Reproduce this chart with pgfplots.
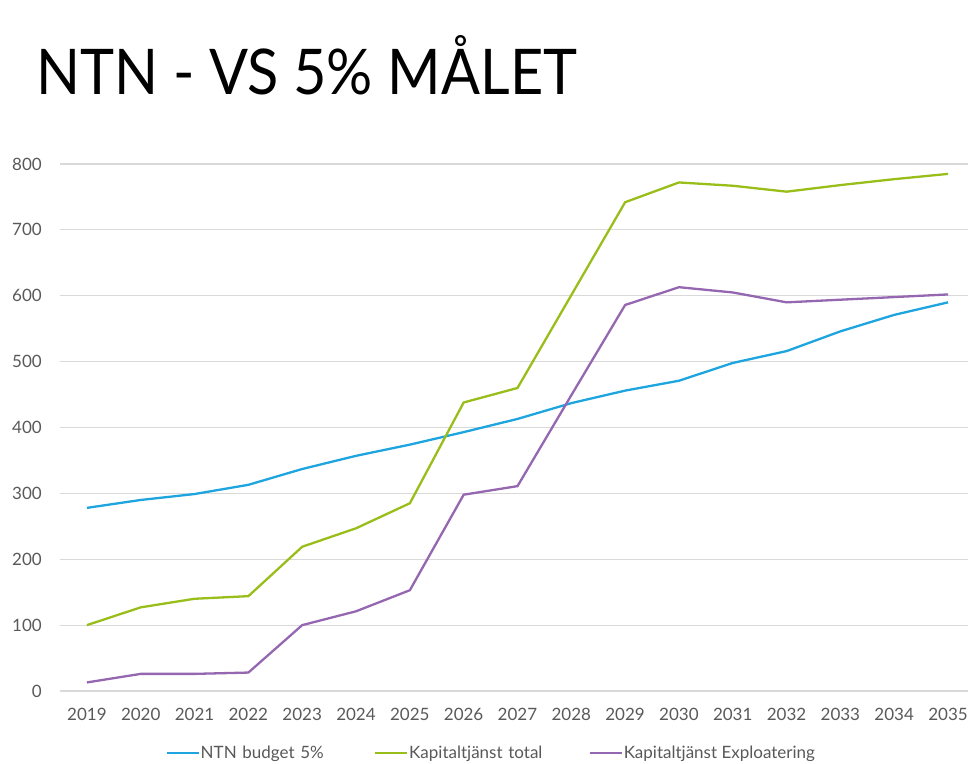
\documentclass[border=0pt]{standalone}
\usepackage{fontspec}
\setmainfont{Lato}
\usepackage{pgfplots}
\pgfplotsset{compat=1.18}
\definecolor{cblue}{HTML}{1EA5E0}
\definecolor{cgreen}{HTML}{99BE1A}
\definecolor{cpurple}{HTML}{9467B0}
\definecolor{tickgray}{HTML}{595959}
\definecolor{gridgray}{HTML}{D9D9D9}
\begin{document}
\begin{tikzpicture}[x=1pt,y=1pt]
\useasboundingbox (0,0) rectangle (968,763);
\node[anchor=base west, inner sep=0pt, xscale=0.915, font=\fontsize{63}{63}\selectfont] at (36,668) {NTN - VS 5\% MÅLET};
\begin{axis}[
  at={(60pt,72pt)}, anchor=south west,
  width=915pt, height=527pt, scale only axis,
  xmin=2018.5, xmax=2035.5, ymin=0, ymax=800,
  clip=false,
  axis line style={draw=none},
  major tick style={draw=none},
  ymajorgrids, major grid style={gridgray, line width=1.2pt},
  xtick={2019,...,2035}, ytick={0,100,...,800},
  /pgf/number format/assume math mode=true,
  /pgf/number format/1000 sep={},
  tick label style={font=\fontsize{17}{17}\selectfont, text=tickgray},
  yticklabel style={inner sep=0pt, anchor=east, xshift=-18pt},
  xticklabel style={inner sep=0pt, anchor=north, yshift=-17pt},
  legend columns=3,
  legend style={draw=none, at={(0.1148,-0.118)}, anchor=west,
    font=\fontsize{17}{17}\selectfont, text=tickgray,
    column sep=0pt, inner sep=0pt,
    nodes={inner sep=1pt}},
  legend image code/.code={\draw[#1, line width=2.5pt] (0pt,0pt) -- (32pt,0pt);},
]
\addplot[cblue, line width=2.3pt] coordinates {
(2019,278) (2020,290) (2021,299) (2022,313) (2023,337) (2024,357) (2025,374) (2026,393) (2027,413)
(2028,437) (2029,456) (2030,471) (2031,498) (2032,516) (2033,546) (2034,571) (2035,590)};
\addlegendentry[text width=172pt]{NTN budget 5\%}
\addplot[cgreen, line width=2.3pt] coordinates {
(2019,100) (2020,127) (2021,140) (2022,144) (2023,219) (2024,247) (2025,285) (2026,438) (2027,460)
(2028,601) (2029,742) (2030,772) (2031,767) (2032,758) (2033,768) (2034,777) (2035,785)};
\addlegendentry[text width=178pt]{Kapitaltjänst total}
\addplot[cpurple, line width=2.3pt] coordinates {
(2019,13) (2020,26) (2021,26) (2022,28) (2023,100) (2024,121) (2025,153) (2026,298) (2027,311)
(2028,449) (2029,586) (2030,613) (2031,605) (2032,590) (2033,594) (2034,598) (2035,602)};
\addlegendentry{Kapitaltjänst Exploatering}
\end{axis}
\end{tikzpicture}
\end{document}
